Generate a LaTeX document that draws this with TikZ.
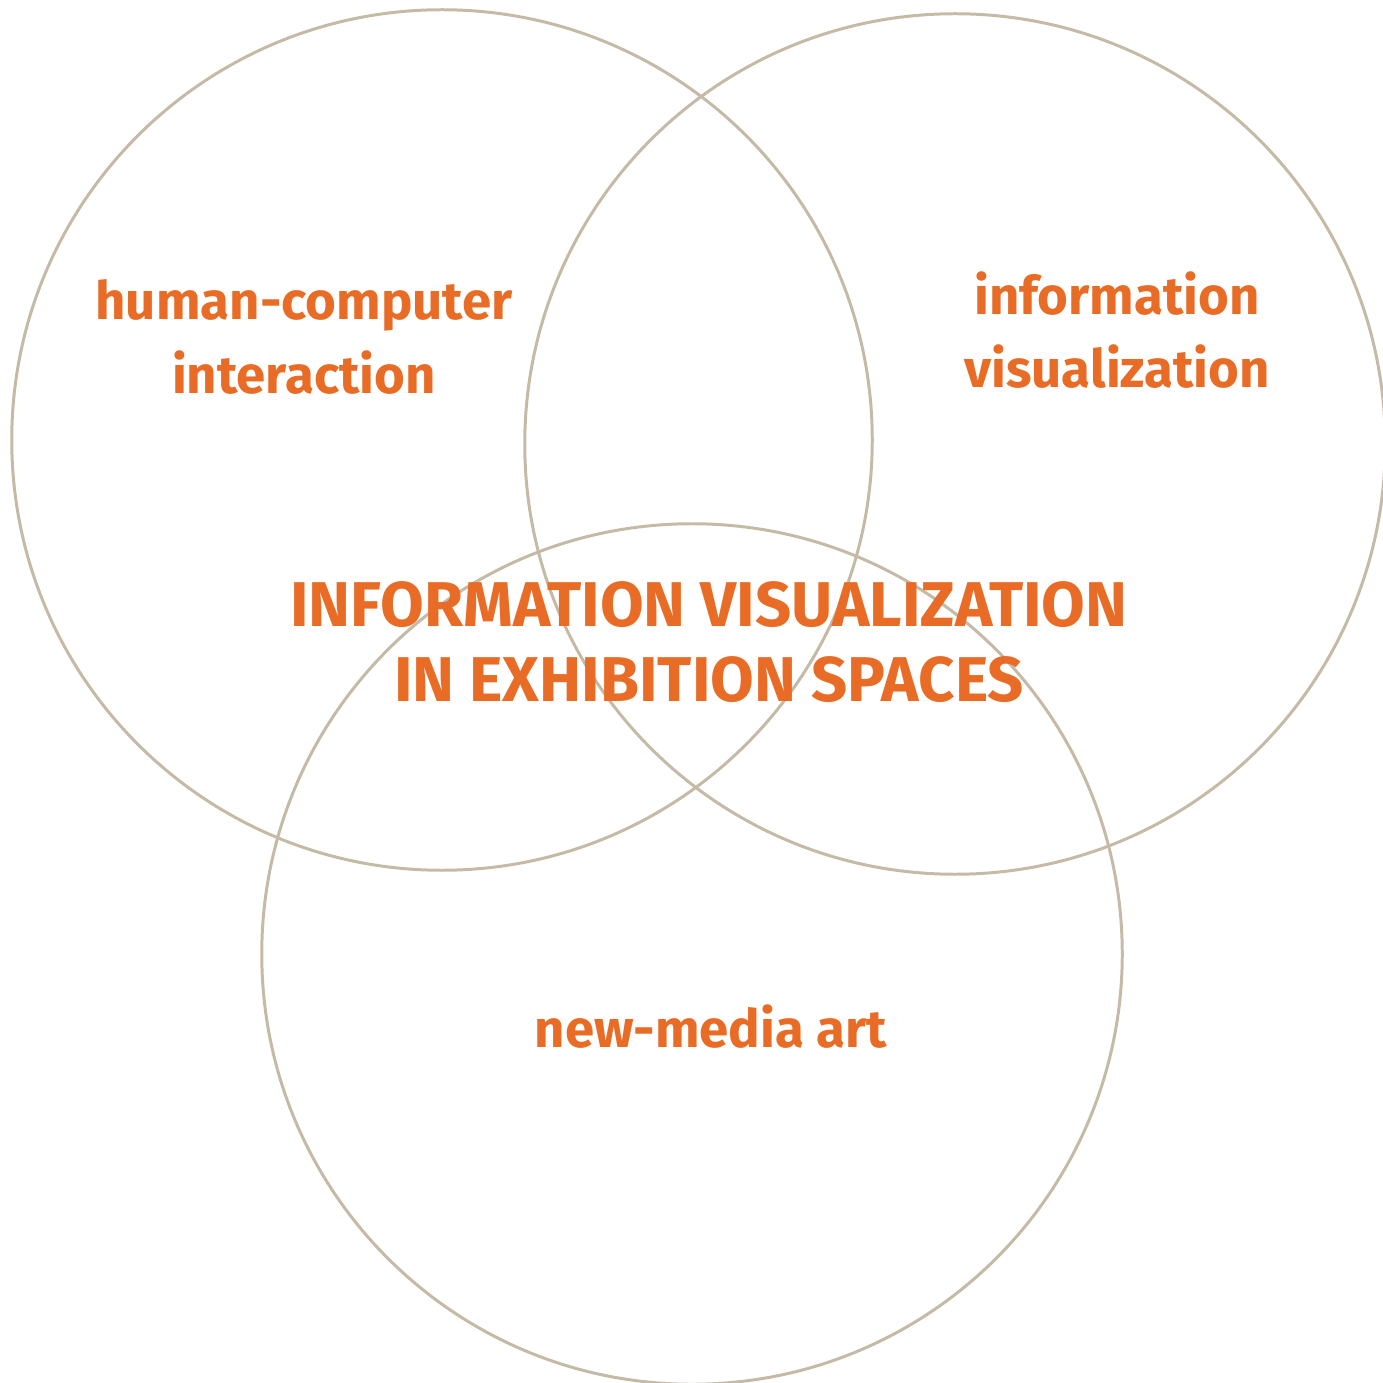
\documentclass[tikz,border=0pt]{standalone}
\usepackage{fontspec}
\setmainfont{Fira Sans}
\definecolor{ring}{RGB}{196,186,166}
\definecolor{ink}{RGB}{232,108,38}
\begin{document}
\begin{tikzpicture}[x=0.01cm,y=-0.01cm,
  ringstyle/.style={circle,draw=ring,line width=0.85pt,minimum size=8.6cm,inner sep=0pt},
  label/.style={text=ink,font=\fontsize{15}{21}\selectfont\bfseries,align=center,inner sep=0pt},
  title/.style={text=ink,font=\fontsize{18}{21.5}\selectfont\bfseries,align=center,inner sep=0pt}]
\useasboundingbox (0,0) rectangle (1383,1383);
\node[ringstyle] (hci) at (442,440) {};
\node[ringstyle] (iv) at (955,444) {};
\node[ringstyle] (art) at (692,954) {};
\node[label] (thci) at (304,337) {human-computer\\interaction};
\node[label] (tiv) at (1117,330) {information\\visualization};
\node[title] (tmain) at (709,642) {INFORMATION VISUALIZATION\\IN EXHIBITION SPACES};
\node[label] (tart) at (711,1027) {new-media art};
\end{tikzpicture}
\end{document}
